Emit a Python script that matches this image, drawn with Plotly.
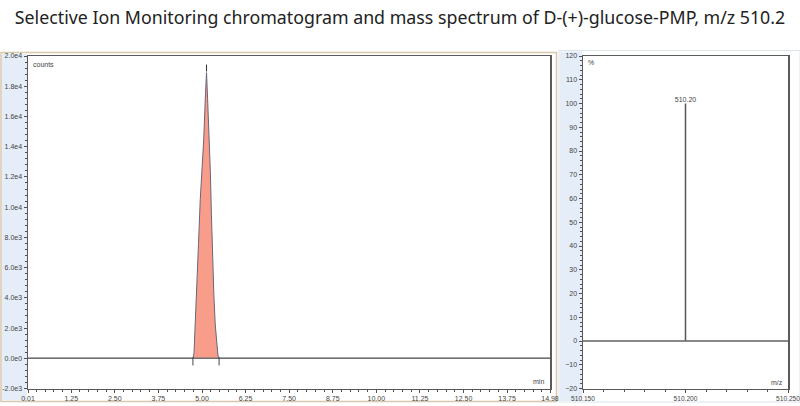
import plotly.graph_objects as go

# ---------------- data ----------------
chrom_time = [0.01, 4.74, 4.77, 4.80, 4.85, 4.90, 4.95, 5.00, 5.05, 5.10, 5.13,
              5.16, 5.20, 5.24, 5.27, 5.30, 5.34, 5.38, 5.42, 5.46, 5.49, 14.98]
chrom_counts = [0, 0, 300, 1800, 4300, 7600, 10500, 12400, 14500, 17500, 18900,
                17200, 15000, 12300, 9500, 6600, 4200, 2200, 800, 150, 0, 0]

chrom_xtick_vals = [0.01, 1.25, 2.50, 3.75, 5.00, 6.25, 7.50, 8.75, 10.00, 11.25, 12.50, 13.75, 14.98]
chrom_xtick_text = ["0.01", "1.25", "2.50", "3.75", "5.00", "6.25", "7.50", "8.75",
                    "10.00", "11.25", "12.50", "13.75", "14.98"]
chrom_ytick_vals = [-2000, 0, 2000, 4000, 6000, 8000, 10000, 12000, 14000, 16000, 18000, 20000]
chrom_ytick_text = ["-2.0e3", "0.0e0", "2.0e3", "4.0e3", "6.0e3", "8.0e3", "1.0e4",
                    "1.2e4", "1.4e4", "1.6e4", "1.8e4", "2.0e4"]

ms_mz = [510.20]
ms_intensity = [100]
ms_labels = ["510.20"]
ms_xtick_vals = [510.150, 510.200, 510.250]
ms_xtick_text = ["510.150", "510.200", "510.250"]
ms_ytick_vals = [-20, -10, 0, 10, 20, 30, 40, 50, 60, 70, 80, 90, 100, 110, 120]

title_text = "Selective Ion Monitoring chromatogram and mass spectrum of D-(+)-glucose-PMP, m/z 510.2"

# ---------------- layout helpers ----------------
W, H = 800, 406
def px(x):
    return x / W
def py(y):
    return 1 - y / H

FRAME = "#5a5a5a"
TICKC = "#505050"
TF = dict(family="Liberation Sans, Arial", size=7, color="#444444")
TF2 = dict(family="Liberation Sans, Arial", size=6.6, color="#444444")

fig = go.Figure()

# chromatogram
fig.add_trace(go.Scatter(
    x=chrom_time, y=chrom_counts, mode="lines",
    line=dict(color="#6b6478", width=1),
    fill="tozeroy", fillcolor="#F99D8B",
    xaxis="x", yaxis="y", hoverinfo="skip", showlegend=False))
# baseline across full range
fig.add_trace(go.Scatter(
    x=[chrom_time[0], chrom_time[-1]], y=[0, 0], mode="lines",
    line=dict(color="#707070", width=1.5),
    xaxis="x", yaxis="y", hoverinfo="skip", showlegend=False))
# peak start/end integration marks
nz = [i for i, v in enumerate(chrom_counts) if v > 0]
i0, i1 = nz[0] - 1, nz[-1] + 1
fig.add_trace(go.Scatter(
    x=[chrom_time[i0], chrom_time[i1]], y=[-200, -200], mode="markers",
    marker=dict(symbol="line-ns-open", size=6, color="#444444",
                line=dict(color="#444444", width=1)),
    xaxis="x", yaxis="y", hoverinfo="skip", showlegend=False))
imax = chrom_counts.index(max(chrom_counts))
fig.add_trace(go.Scatter(
    x=[chrom_time[imax]], y=[chrom_counts[imax] + 300], mode="markers",
    marker=dict(symbol="line-ns-open", size=5, color="#333333",
                line=dict(color="#333333", width=1)),
    xaxis="x", yaxis="y", hoverinfo="skip", showlegend=False))

# mass spectrum
for mz, inten in zip(ms_mz, ms_intensity):
    fig.add_trace(go.Scatter(
        x=[mz, mz], y=[0, inten], mode="lines",
        line=dict(color="#555555", width=1.5),
        xaxis="x2", yaxis="y2", hoverinfo="skip", showlegend=False))
fig.add_trace(go.Scatter(
    x=[ms_xtick_vals[0], ms_xtick_vals[-1]], y=[0, 0], mode="lines",
    line=dict(color="#606060", width=1.5),
    xaxis="x2", yaxis="y2", hoverinfo="skip", showlegend=False))
fig.add_trace(go.Scatter(
    x=ms_mz, y=ms_intensity, mode="text", text=ms_labels,
    textposition="top center", textfont=TF,
    xaxis="x2", yaxis="y2", hoverinfo="skip", showlegend=False))

ax_common = dict(showgrid=False, zeroline=False, showline=True, mirror=True,
                 linecolor=FRAME, linewidth=1.5, ticks="outside", ticklen=3,
                 tickcolor=TICKC, tickwidth=1, fixedrange=True,
                 automargin=False)

x1dom = [px(28), px(550)]
x2dom = [px(583), px(788)]
ydom = [py(388.5), py(56)]

fig.update_layout(
    width=W, height=H,
    margin=dict(l=0, r=0, t=0, b=0),
    paper_bgcolor="white", plot_bgcolor="white",
    title=dict(text=title_text, x=0.5, xanchor="center", y=py(18), yanchor="middle",
               font=dict(family="Noto Sans, Arial", size=17.8, color="#222222")),
    xaxis=dict(domain=x1dom, range=[0.01, 14.98], tickvals=chrom_xtick_vals,
               ticktext=chrom_xtick_text, anchor="y", tickfont=TF,
               minor=dict(ticks="outside", ticklen=2, tickcolor=TICKC, tick0=0, dtick=0.25),
               **ax_common),
    yaxis=dict(domain=ydom, range=[-2000, 20000], tickvals=chrom_ytick_vals,
               ticktext=chrom_ytick_text, anchor="x", tickfont=TF,
               minor=dict(ticks="outside", ticklen=2, tickcolor=TICKC, tick0=0, dtick=400),
               **ax_common),
    xaxis2=dict(domain=x2dom, range=[510.150, 510.250], tickvals=ms_xtick_vals,
                ticktext=ms_xtick_text, anchor="y2", tickfont=TF2,
                ticklabeloverflow="allow",
                minor=dict(ticks="outside", ticklen=2, tickcolor=TICKC, tick0=510.15, dtick=0.01),
                **ax_common),
    yaxis2=dict(domain=ydom, range=[-20, 120], tickvals=ms_ytick_vals, anchor="x2",
                tickfont=TF,
                minor=dict(ticks="outside", ticklen=2, tickcolor=TICKC, tick0=0, dtick=2),
                **ax_common),
)

# panel backgrounds
shapes = [
    dict(type="rect", xref="paper", yref="paper", x0=px(1), x1=px(556.5), y0=py(401.5), y1=py(52.5),
         line=dict(color="#d8c8ac", width=1.5), fillcolor="white", layer="below"),
    dict(type="rect", xref="paper", yref="paper", x0=px(2), x1=px(27), y0=py(400.5), y1=py(54),
         line=dict(width=0), fillcolor="#e4edf8", layer="below"),
    dict(type="rect", xref="paper", yref="paper", x0=px(559), x1=px(800), y0=py(402), y1=py(50.5),
         line=dict(color="#dce4ee", width=1), fillcolor="white", layer="below"),
    dict(type="rect", xref="paper", yref="paper", x0=px(560), x1=px(582), y0=py(401), y1=py(51.5),
         line=dict(width=0), fillcolor="#e4edf8", layer="below"),
]
fig.update_layout(shapes=shapes)

ann_font = dict(family="Liberation Sans, Arial", size=7, color="#444444")
fig.update_layout(annotations=[
    dict(text="counts", xref="paper", yref="paper", x=px(31), y=py(64), xanchor="left",
         yanchor="middle", showarrow=False, font=ann_font),
    dict(text="min", xref="paper", yref="paper", x=px(546), y=py(381), xanchor="right",
         yanchor="middle", showarrow=False, font=ann_font),
    dict(text="%", xref="paper", yref="paper", x=px(586), y=py(63), xanchor="left",
         yanchor="middle", showarrow=False, font=ann_font),
    dict(text="m/z", xref="paper", yref="paper", x=px(785), y=py(382), xanchor="right",
         yanchor="middle", showarrow=False, font=ann_font),
])

fig.write_html("out.html", config={"displayModeBar": False, "staticPlot": True},
               post_script="document.body.style.margin='0px';document.body.style.overflow='hidden';")
